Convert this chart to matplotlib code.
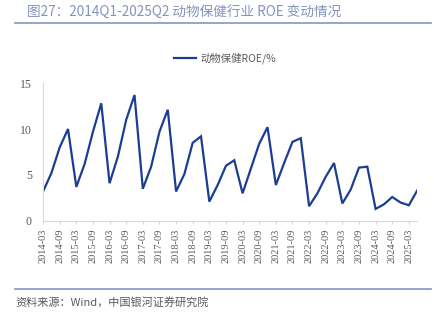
import matplotlib.pyplot as plt
from matplotlib.lines import Line2D

plt.rcParams['font.family'] = ['Liberation Serif', 'Noto Sans CJK SC', 'DejaVu Sans']

# quarterly ROE 2014Q1 .. 2025Q2
quarters = []
for year in range(2014, 2026):
    for m in ['03', '06', '09', '12']:
        quarters.append(str(year) + '-' + m)
quarters = quarters[:46]

roe = [3.2, 5.2, 8.0, 10.0,
       3.7, 6.2, 9.7, 12.8,
       4.1, 7.0, 11.0, 13.7,
       3.5, 5.9, 9.7, 12.1,
       3.2, 5.1, 8.5, 9.2,
       2.1, 3.9, 6.0, 6.6,
       3.0, 5.7, 8.4, 10.2,
       3.9, 6.3, 8.6, 9.0,
       1.6, 3.0, 4.8, 6.3,
       1.9, 3.4, 5.8, 5.9,
       1.3, 1.8, 2.6, 2.0,
       1.7, 3.3]

line_color = '#1c3d94'
grey = '#595959'

fig = plt.figure(figsize=(4.35, 3.22), dpi=100)
ax = fig.add_axes([0.099, 0.314, 0.86, 0.428])

x = list(range(len(roe)))
ax.plot(x, roe, color=line_color, lw=1.6, solid_joinstyle='miter')

ax.set_xlim(0, len(roe) - 1)
ax.set_ylim(0, 15)
ax.set_yticks([0, 5, 10, 15])
ax.set_xticks(x[::2])
ax.set_xticklabels(quarters[::2], rotation=90)
ax.tick_params(axis='x', labelsize=7.5, colors=grey, length=2, color='#d9d9d9')
ax.tick_params(axis='y', labelsize=8.5, colors=grey, length=0, pad=8)

for s in ['top', 'right']:
    ax.spines[s].set_visible(False)
for s in ['left', 'bottom']:
    ax.spines[s].set_color('#d9d9d9')
    ax.spines[s].set_linewidth(0.8)

handle = Line2D([0], [0], color=line_color, lw=1.6)
leg = fig.legend([handle], ['动物保健ROE/%'], loc='center', bbox_to_anchor=(0.517, 0.82),
                 frameon=False, fontsize=7.5, handlelength=2.2, handletextpad=0.4)
for t in leg.get_texts():
    t.set_color(grey)
    t.set_family(['Noto Sans CJK SC', 'DejaVu Sans'])

# title and frame lines
fig.text(0.062, 0.962, '图27：2014Q1-2025Q2 动物保健行业 ROE 变动情况', fontsize=9.8,
         color='#8394bf', va='center', ha='left', family=['Noto Sans CJK SC', 'DejaVu Sans'])
fig.add_artist(Line2D([0.034, 0.99], [0.928, 0.928], color='#8496c4', lw=1.2))
fig.add_artist(Line2D([0.034, 0.99], [0.103, 0.103], color='#8496c4', lw=1.2))
fig.text(0.036, 0.062, '资料来源：Wind，中国银河证券研究院', fontsize=8, color=grey,
         style='italic', va='center', ha='left', family=['Noto Sans CJK SC', 'DejaVu Sans'])

fig.savefig('out.png', dpi=100)
